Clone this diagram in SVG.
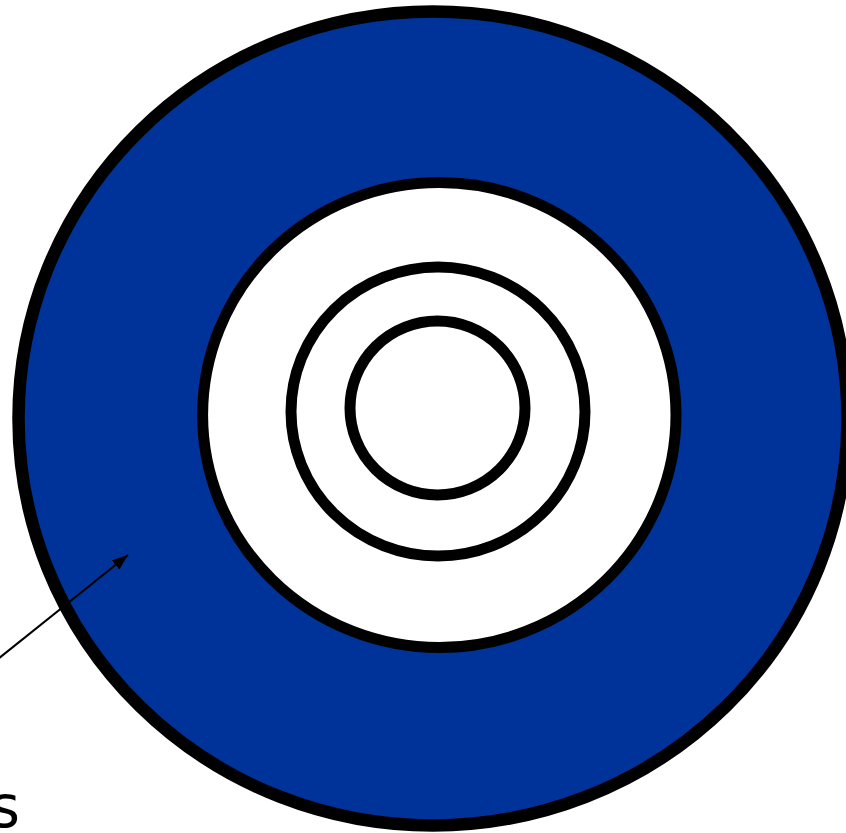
<svg xmlns="http://www.w3.org/2000/svg" width="846" height="833" viewBox="0 0 846 833">
<style>
.ring{fill:none;stroke:#000;stroke-width:11}
.lbl{font-family:"DejaVu Sans","Verdana",sans-serif;font-size:58px;fill:#000}
</style>
<defs>
<marker id="ah" markerWidth="8" markerHeight="6" refX="8" refY="3" orient="auto" markerUnits="strokeWidth">
<path d="M0,0 L8,3 L0,6 Z" fill="#000"/>
</marker>
</defs>
<rect width="846" height="833" fill="#fff"/>
<g id="outer">
<ellipse cx="433" cy="418.5" rx="414.5" ry="407" fill="#003399" stroke="#000" stroke-width="12.5"/>
</g>
<g id="ring2">
<ellipse cx="439.3" cy="415" rx="236.7" ry="232.5" fill="#fff" stroke="#000" stroke-width="11"/>
</g>
<g id="ring3">
<ellipse cx="438" cy="411.5" rx="147" ry="144.5" class="ring"/>
</g>
<g id="ring4">
<ellipse cx="437.5" cy="408" rx="87.5" ry="87" class="ring"/>
</g>
<g id="connectors">
<line x1="-2" y1="659" x2="128" y2="555" stroke="#000" stroke-width="2" marker-end="url(#ah)"/>
</g>
<g id="label">
<text class="lbl" x="20" y="827" text-anchor="end">s</text>
</g>
</svg>
